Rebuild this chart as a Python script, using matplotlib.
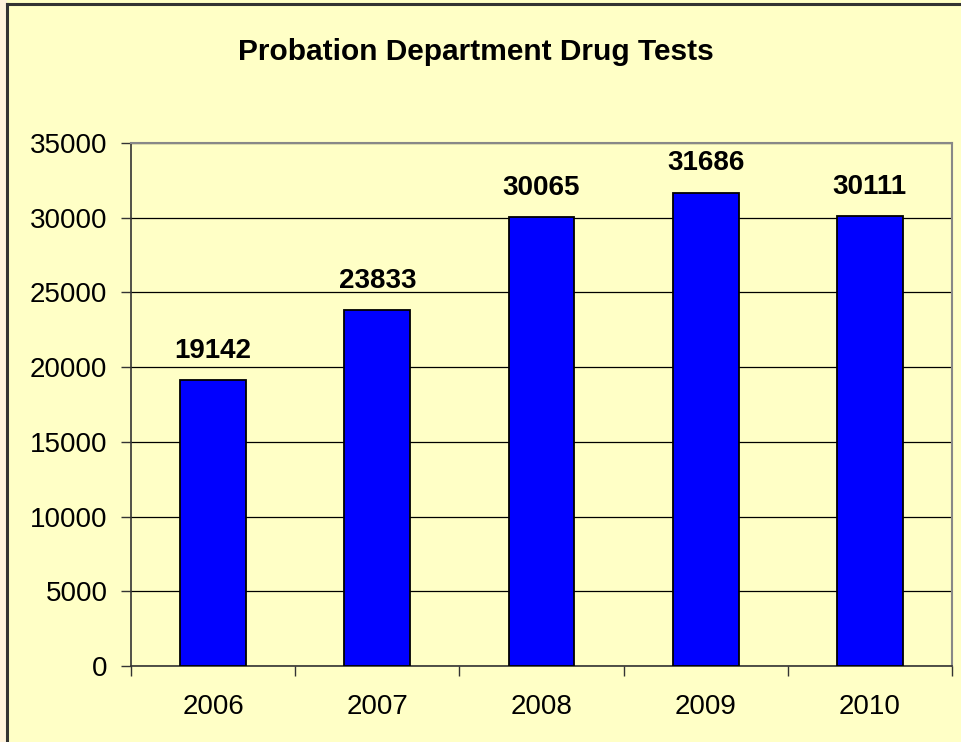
import matplotlib.pyplot as plt
from matplotlib.patches import Rectangle
from matplotlib.lines import Line2D

years = ['2006', '2007', '2008', '2009', '2010']
tests = [19142, 23833, 30065, 31686, 30111]
yticks = [0, 5000, 10000, 15000, 20000, 25000, 30000, 35000]

plt.rcParams['font.family'] = ['Liberation Sans', 'DejaVu Sans']

W, H = 961, 742
fig = plt.figure(figsize=(W / 100, H / 100), dpi=100, facecolor='#FFFFC6')

# strip outside the chart border on the left, plus the border lines
fig.patches.append(Rectangle((0, 0), 6.5 / W, 1, transform=fig.transFigure,
                             facecolor='#FFF3DC', edgecolor='none', zorder=0))
fig.lines.append(Line2D([7 / W, 7 / W], [0, 1 - 4 / H], transform=fig.transFigure,
                        color='#333333', lw=2.2))
fig.lines.append(Line2D([7 / W, 1], [1 - 4 / H, 1 - 4 / H], transform=fig.transFigure,
                        color='#333333', lw=2.2))

left, right, top, bottom = 131, 952, 143, 666
ax = fig.add_axes([left / W, 1 - bottom / H, (right - left) / W, (bottom - top) / H])
ax.set_facecolor('#FFFFC6')

x = list(range(len(years)))
ax.bar(x, tests, width=0.4, color='#0000FF', edgecolor='black', linewidth=1.3, zorder=3)
for xi, v in zip(x, tests):
    ax.annotate(str(v), (xi, v), xytext=(0, 16), textcoords='offset points',
                ha='center', va='baseline', fontsize=20, fontweight='bold', zorder=4)

ax.set_xlim(-0.5, len(years) - 0.5)
ax.set_ylim(0, 35000)
ax.set_yticks(yticks)
ax.set_yticklabels([str(t) for t in yticks], fontsize=20)
ax.yaxis.grid(True, color='black', lw=0.9, zorder=1)

# category labels centered, ticks at category boundaries
ax.set_xticks(x)
ax.set_xticklabels(years, fontsize=20)
ax.tick_params(axis='x', length=0, pad=20)
ax.set_xticks([i - 0.5 for i in range(len(years) + 1)], minor=True)
ax.tick_params(axis='x', which='minor', length=7, width=1, color='#333333')
ax.tick_params(axis='y', length=7, width=1, color='#333333', pad=10)

for s in ['left', 'bottom']:
    ax.spines[s].set_color('#333333')
    ax.spines[s].set_linewidth(1.2)
for s in ['right', 'top']:
    ax.spines[s].set_color('#888888')
    ax.spines[s].set_linewidth(1.5)

fig.text(476 / W, 1 - 52 / H, 'Probation Department Drug Tests',
         ha='center', va='center', fontsize=21.5, fontweight='bold')

fig.savefig('out.png', dpi=100, facecolor=fig.get_facecolor())
